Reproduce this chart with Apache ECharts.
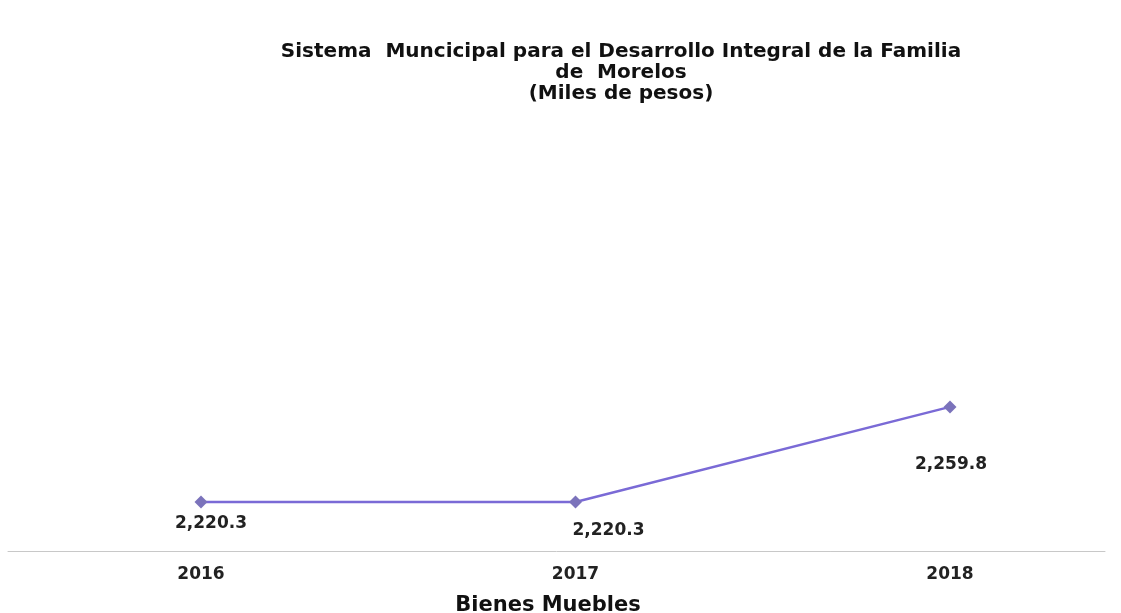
<!DOCTYPE html>
<html><head><meta charset="utf-8">
<script src="https://cdn.jsdelivr.net/npm/echarts@6/dist/echarts.min.js"></script>
<style>html,body{margin:0;padding:0;background:#fff}#c{width:1121px;height:613px}</style>
</head><body><div id="c"></div>
<script>
const categories = ['2016', '2017', '2018'];
const values = [2220.3, 2220.3, 2259.8];
const labelDistances = [7, 14, 43];
const labelShiftX = [10, 33, 1];
const titleText = 'Sistema  Muncicipal para el Desarrollo Integral de la Familia\nde  Morelos\n(Miles de pesos)';
const axisName = 'Bienes Muebles';

const fmt = v => v.toLocaleString('en-US', {minimumFractionDigits: 1, maximumFractionDigits: 1});
const FONT = 'DejaVu Sans';
const chart = echarts.init(document.getElementById('c'));
chart.setOption({
  animation: false,
  backgroundColor: '#fff',
  title: [{
    text: titleText, left: 616, top: 36, textAlign: 'center',
    textStyle: {fontFamily: FONT, fontWeight: 'bold', fontSize: 20, lineHeight: 21, color: '#111'}
  }, {
    text: axisName, left: 543, top: 590, textAlign: 'center',
    textStyle: {fontFamily: FONT, fontWeight: 'bold', fontSize: 21, color: '#111'}
  }],
  grid: [
    {left: 201, right: 171, top: 310, bottom: 62},
    {left: 8, right: 16, top: 310, bottom: 62}
  ],
  xAxis: [{
    type: 'category', data: categories, boundaryGap: false, gridIndex: 0,
    axisLine: {show: false}, axisTick: {show: false},
    axisLabel: {margin: 15, fontFamily: FONT, fontWeight: 'bold', fontSize: 17, color: '#222'}
  }, {
    type: 'category', data: [''], gridIndex: 1,
    axisLine: {show: true, lineStyle: {color: '#c8c8c8', width: 1}},
    axisTick: {show: false}, axisLabel: {show: false}
  }],
  yAxis: [
    {type: 'value', min: 2200, max: 2300, gridIndex: 0, show: false, splitLine: {show: false}},
    {type: 'value', gridIndex: 1, show: false, splitLine: {show: false}}
  ],
  series: [{
    type: 'line', xAxisIndex: 0, yAxisIndex: 0,
    data: values.map((v, i) => ({value: v, label: {distance: labelDistances[i], offset: [labelShiftX[i], 0]}})),
    symbol: 'diamond', symbolSize: 13,
    itemStyle: {color: '#7b73bb'},
    lineStyle: {color: '#7a6ad6', width: 2.5},
    label: {
      show: true, position: 'bottom',
      formatter: p => fmt(p.value),
      fontFamily: FONT, fontWeight: 'bold', fontSize: 17, color: '#222'
    }
  }]
});
</script></body></html>
